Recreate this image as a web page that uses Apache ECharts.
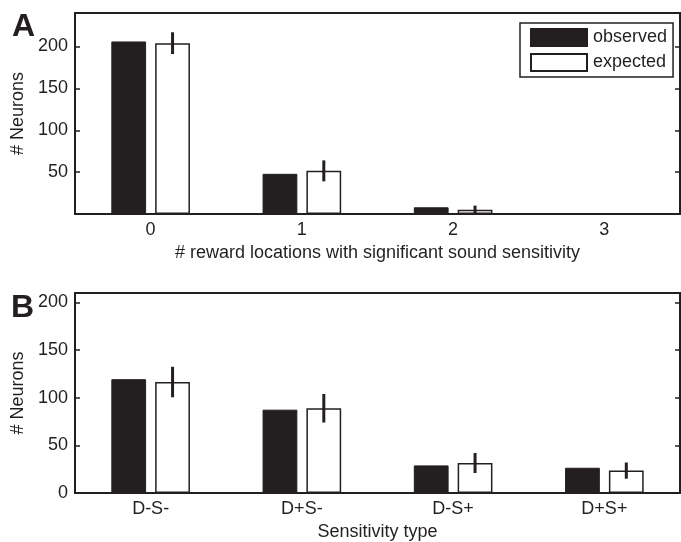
<!DOCTYPE html>
<html><head><meta charset="utf-8">
<script src="https://cdn.jsdelivr.net/npm/echarts@6/dist/echarts.min.js"></script>
<style>html,body{margin:0;padding:0;background:#fff}#c{width:681px;height:542px}</style>
</head><body><div id="c"></div>
<script>
const catsA = ['0', '1', '2', '3'];
const obsA = [206, 48, 8, 0];
const expA = [204, 51.5, 5, 0];
const errA = [13, 12.5, 5, 0];

const catsB = ['D-S-', 'D+S-', 'D-S+', 'D+S+'];
const obsB = [119.5, 87.5, 29, 26.5];
const expB = [116.5, 89, 31.5, 23.5];
const errB = [16, 15, 10.5, 8.5];

const yTicksA = [50, 100, 150, 200];
const yTicksB = [0, 50, 100, 150, 200];

const FONT = 'Liberation Sans';
const INK = '#231f20';
const chart = echarts.init(document.getElementById('c'), null, {renderer: 'canvas'});

function errData(exp, err) {
  return exp.map((v, i) => [i, v - err[i], v + err[i]]).filter((d, i) => err[i] > 0);
}
function renderErr(params, api) {
  const x = api.value(0);
  const p1 = api.coord([x, api.value(1)]);
  const p2 = api.coord([x, api.value(2)]);
  const off = api.size([1, 0])[0] * 0.145;
  return {type: 'line', shape: {x1: p1[0] + off, y1: p1[1], x2: p2[0] + off, y2: p2[1]},
    style: {stroke: INK, lineWidth: 3}};
}
function xAxes(cats, grid, name) {
  return [{
    type: 'category', data: cats, gridIndex: grid, position: 'bottom',
    axisLine: {onZero: false, lineStyle: {color: INK, width: 2}},
    axisTick: {inside: true, alignWithLabel: true, length: 4, lineStyle: {color: INK, width: 1.5}},
    axisLabel: {color: INK, fontFamily: FONT, fontSize: 18, margin: 7},
    name: name, nameLocation: 'middle', nameGap: 30,
    nameTextStyle: {color: INK, fontFamily: FONT, fontSize: 18}
  }, {
    type: 'category', data: cats, gridIndex: grid, position: 'top',
    axisLine: {onZero: false, lineStyle: {color: INK, width: 2}},
    axisTick: {inside: true, alignWithLabel: true, length: 5, lineStyle: {color: INK, width: 1.5}},
    axisLabel: {show: false}
  }];
}
function yAxes(grid, max, ticks) {
  const tickInt = (i, v) => ticks.includes(v);
  return [{
    type: 'value', gridIndex: grid, min: 0, max: max, interval: 50, position: 'left',
    axisLine: {show: true, onZero: false, lineStyle: {color: INK, width: 2}},
    axisTick: {show: true, inside: true, length: 5, lineStyle: {color: INK, width: 1.5}},
    splitLine: {show: false},
    axisLabel: {color: INK, fontFamily: FONT, fontSize: 18, margin: 7, showMaxLabel: false,
      formatter: v => ticks.includes(v) ? String(v) : ''},
    name: '# Neurons', nameLocation: 'middle', nameGap: 46,
    nameTextStyle: {color: INK, fontFamily: FONT, fontSize: 18}
  }, {
    type: 'value', gridIndex: grid, min: 0, max: max, interval: 50, position: 'right',
    axisLine: {show: true, onZero: false, lineStyle: {color: INK, width: 2}},
    axisTick: {show: true, inside: true, length: 5, lineStyle: {color: INK, width: 1.5}},
    splitLine: {show: false}, axisLabel: {show: false}
  }];
}
const obsStyle = {color: INK, borderColor: INK, borderWidth: 1};
const expStyle = {color: '#ffffff', borderColor: INK, borderWidth: 1.5};

chart.setOption({
  animation: false,
  backgroundColor: '#fff',
  grid: [
    {left: 75, top: 13, width: 605, height: 201},
    {left: 75, top: 293, width: 605, height: 201}
  ],
  xAxis: [...xAxes(catsA, 0, '# reward locations with significant sound sensitivity'),
          ...xAxes(catsB, 1, 'Sensitivity type')],
  yAxis: [...yAxes(0, 240, yTicksA), ...yAxes(1, 210, yTicksB)],
  legend: {
    data: ['observed', 'expected'], orient: 'vertical', left: 520, top: 23,
    padding: [5, 6, 5, 10], itemGap: 6, itemWidth: 56, itemHeight: 17,
    backgroundColor: '#fff', borderColor: INK, borderWidth: 1.5, borderRadius: 0,
    icon: 'rect', textStyle: {color: INK, fontFamily: FONT, fontSize: 18, padding: [0, 0, 0, 1]}
  },
  graphic: [
    {type: 'text', left: 12, top: 11, style: {text: 'A', font: 'bold 32px "Liberation Sans"', fill: INK}},
    {type: 'text', left: 11, top: 292, style: {text: 'B', font: 'bold 32px "Liberation Sans"', fill: INK}}
  ],
  series: [
    {name: 'observed', type: 'bar', xAxisIndex: 0, yAxisIndex: 0, data: obsA,
      barWidth: '23%', barGap: '26%', itemStyle: obsStyle},
    {name: 'expected', type: 'bar', xAxisIndex: 0, yAxisIndex: 0, data: expA,
      barWidth: '23%', barGap: '26%', itemStyle: expStyle},
    {name: 'errA', type: 'custom', xAxisIndex: 0, yAxisIndex: 0, data: errData(expA, errA),
      renderItem: renderErr, z: 5},
    {name: 'observed', type: 'bar', xAxisIndex: 2, yAxisIndex: 2, data: obsB,
      barWidth: '23%', barGap: '26%', itemStyle: obsStyle},
    {name: 'expected', type: 'bar', xAxisIndex: 2, yAxisIndex: 2, data: expB,
      barWidth: '23%', barGap: '26%', itemStyle: expStyle},
    {name: 'errB', type: 'custom', xAxisIndex: 2, yAxisIndex: 2, data: errData(expB, errB),
      renderItem: renderErr, z: 5}
  ]
});
</script></body></html>
